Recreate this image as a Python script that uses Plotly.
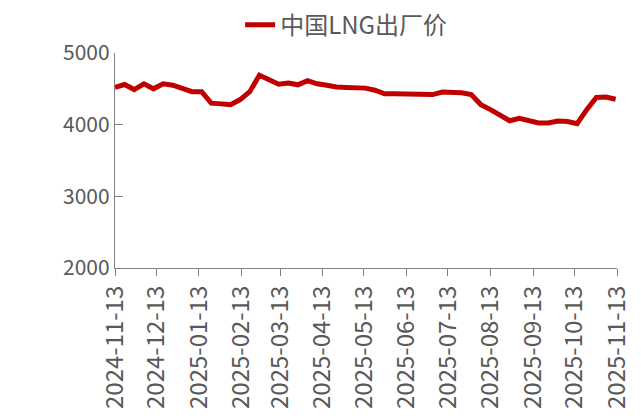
import pandas as pd
import plotly.graph_objects as go

series_name = "中国LNG出厂价"
start_date = "2024-11-13"
n_weeks = 53
prices = [4520, 4560, 4490, 4570, 4500, 4570, 4550, 4510, 4460, 4460,
          4300, 4290, 4280, 4350, 4460, 4690, 4625, 4565, 4580, 4556,
          4615, 4570, 4550, 4525, 4520, 4520, 4510, 4480, 4430, 4430,
          4425, 4415, 4420, 4420, 4455, 4455, 4445, 4420, 4280, 4210,
          4140, 4055, 4090, 4055, 4025, 4025, 4050, 4045, 4015, 4210,
          4380, 4385, 4355]
tick_labels = ["2024-11-13", "2024-12-13", "2025-01-13", "2025-02-13", "2025-03-13",
               "2025-04-13", "2025-05-13", "2025-06-13", "2025-07-13", "2025-08-13",
               "2025-09-13", "2025-10-13", "2025-11-13"]
y_ticks = [2000, 3000, 4000, 5000]

dates = pd.date_range(start_date, periods=n_weeks, freq="7D")

fig = go.Figure()
fig.add_trace(go.Scatter(x=dates, y=prices, mode="lines", name=series_name,
                         line=dict(color="#C00000", width=5)))

grey = "#595959"
axis_grey = "#7f7f7f"
fig.update_layout(
    width=641, height=418,
    margin=dict(l=115, r=24, t=53, b=150, autoexpand=False),
    paper_bgcolor="white", plot_bgcolor="white",
    font=dict(family="Noto Sans CJK SC, Open Sans, sans-serif", color=grey, size=21),
    showlegend=True,
    legend=dict(orientation="h", xref="container", yref="container",
                x=0.54, xanchor="center", y=0.94, yanchor="middle",
                font=dict(size=24, color=grey), bgcolor="rgba(0,0,0,0)"),
    xaxis=dict(type="date", range=[tick_labels[0], tick_labels[-1]],
               tickvals=tick_labels, ticktext=tick_labels, tickangle=-90,
               showline=True, linecolor=axis_grey, linewidth=1.3,
               ticks="outside", ticklen=7, tickcolor=axis_grey, tickwidth=1.3,
               showgrid=False, zeroline=False,
               tickfont=dict(size=24, color=grey)),
    yaxis=dict(range=[2000, 5000], tickvals=y_ticks,
               showline=True, linecolor=axis_grey, linewidth=1.3,
               ticks="inside", ticklen=8, tickcolor=axis_grey, tickwidth=1.3,
               showgrid=False, zeroline=False,
               tickfont=dict(size=21, color=grey)),
)

fig.write_html("out.html", config={"displayModeBar": False},
               post_script="document.body.style.margin='0';")
